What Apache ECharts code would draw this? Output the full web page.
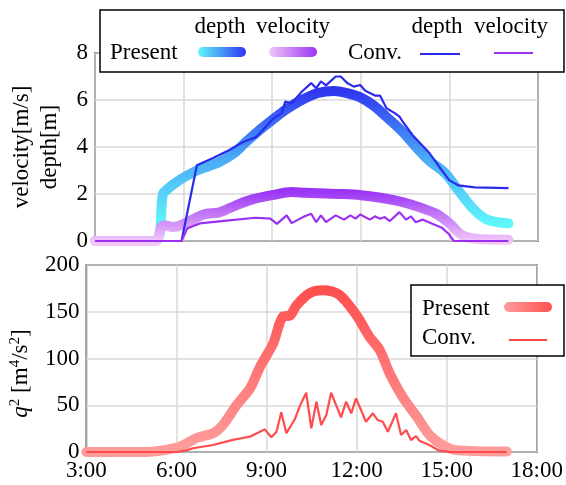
<!DOCTYPE html>
<html>
<head>
<meta charset="utf-8">
<script src="https://cdn.jsdelivr.net/npm/echarts@6/dist/echarts.min.js"></script>
<style>html,body{margin:0;padding:0;background:#fff;}#c{width:566px;height:485px;}</style>
</head>
<body>
<div id="c"></div>
<script>
// ---- data (time in decimal hours) ----
const xTicks = [3, 6, 9, 12, 15, 18];

const presDepthT = [3.0, 5.05, 5.3, 5.45, 5.7, 6.0, 6.45, 7.2, 7.7, 8.1, 8.55, 9.0, 9.45, 10.0, 10.55, 11.1, 11.5, 12.0, 12.45, 12.87, 13.43, 13.87, 14.3, 14.86, 15.3, 15.76, 16.2, 16.6, 17.0];
const presDepthV = [0, 0, 2.0, 2.2, 2.45, 2.7, 3.0, 3.35, 3.73, 4.2, 4.7, 5.15, 5.58, 6.0, 6.3, 6.38, 6.3, 6.1, 5.75, 5.28, 4.63, 4.0, 3.44, 2.88, 2.16, 1.43, 0.96, 0.8, 0.75];

const presVelT = [3.0, 5.05, 5.25, 5.4, 5.6, 5.8, 6.12, 6.68, 7.22, 7.78, 8.33, 9.0, 9.66, 10.1, 10.55, 11.3, 12.0, 12.77, 13.43, 14.0, 14.53, 15.0, 15.43, 15.87, 17.0];
const presVelV = [0, 0, 0.62, 0.66, 0.6, 0.62, 0.8, 1.13, 1.22, 1.52, 1.77, 1.95, 2.08, 2.05, 2.03, 2.0, 1.95, 1.82, 1.65, 1.43, 1.17, 0.75, 0.24, 0.1, 0.05];

const convDepthT = [3.0, 5.93, 6.45, 7.0, 7.55, 8.0, 8.45, 8.78, 9.05, 9.33, 9.44, 9.66, 10.0, 10.32, 10.49, 10.65, 10.82, 11.15, 11.32, 11.54, 11.76, 11.98, 12.15, 12.48, 12.65, 12.87, 13.15, 13.31, 13.42, 13.75, 14.33, 14.66, 15.0, 15.3, 15.86, 17.0];
const convDepthV = [0, 0, 3.22, 3.53, 3.87, 4.2, 4.42, 4.85, 5.22, 5.45, 5.93, 5.86, 6.35, 6.72, 6.5, 6.79, 6.62, 7.0, 7.0, 6.72, 6.57, 6.64, 6.39, 6.19, 6.19, 5.65, 5.44, 5.29, 5.08, 4.51, 3.73, 3.15, 2.58, 2.37, 2.28, 2.25];

const convVelT = [3.0, 5.93, 6.12, 6.55, 7.45, 8.44, 8.94, 9.16, 9.49, 9.66, 9.88, 10.1, 10.32, 10.49, 10.65, 10.82, 11.15, 11.43, 11.65, 11.82, 11.98, 12.31, 12.48, 12.65, 12.81, 12.98, 13.31, 13.53, 13.7, 13.86, 14.09, 14.42, 14.75, 14.97, 15.15, 17.0];
const convVelV = [0, 0, 0.53, 0.75, 0.87, 0.99, 0.95, 0.73, 1.09, 0.76, 0.91, 1.05, 1.16, 0.8, 1.09, 0.8, 1.09, 0.91, 1.09, 0.95, 1.13, 0.91, 1.05, 0.95, 1.02, 0.85, 1.23, 0.91, 1.05, 0.8, 0.91, 0.73, 0.56, 0.31, 0, 0];

const presQT = [3.0, 5.0, 5.6, 6.12, 6.68, 7.22, 7.55, 8.0, 8.45, 8.78, 9.22, 9.55, 9.78, 10.0, 10.44, 10.87, 11.43, 12.0, 12.43, 12.77, 13.1, 13.53, 14.0, 14.43, 14.86, 15.3, 17.0];
const presQV = [0, 0, 2, 5.7, 15, 20, 29, 50, 68, 91, 116, 145, 146, 157, 170, 173, 168, 146, 123, 109, 84, 59, 38, 18, 7.5, 2, 0.5];

const convQT = [3.0, 6.0, 6.3, 6.55, 7.22, 7.88, 8.2, 8.44, 8.78, 8.94, 9.16, 9.33, 9.49, 9.66, 9.94, 10.1, 10.32, 10.49, 10.66, 10.82, 10.99, 11.15, 11.48, 11.65, 11.82, 11.98, 12.31, 12.54, 12.7, 12.87, 13.04, 13.31, 13.48, 13.65, 13.81, 13.98, 14.09, 14.42, 14.76, 15.1, 17.0];
const convQV = [0, 0, 1.5, 4, 7.5, 13, 15, 16.4, 21.7, 24.2, 15.7, 21.7, 42.4, 20, 35, 48.5, 63.4, 25.3, 53.8, 28.9, 39.6, 63.4, 37.1, 53.8, 41.4, 57.4, 32.4, 41.4, 34.2, 32.4, 21.7, 41.4, 18.2, 23.5, 12.8, 17.1, 12.1, 7.5, 1.4, 0, 0];

const zip = (t, v) => t.map((x, i) => [x, v[i]]);

const FONT = 'Liberation Serif';
const FS = 23;
const FSTR = FS + 'px "Liberation Serif"';
const C = {
  cyan: '#5ff7fa', blue: '#3035f0',
  pink: '#f2c6f8', purple: '#9a35f5',
  lred: '#ff9d9d', red: '#ff5050',
  convBlue: '#2b2bee', convPurple: '#9b30f0', convRed: '#ff4b4b'
};
const G = echarts.graphic;

const chart = echarts.init(document.getElementById('c'), null, {renderer: 'canvas'});

const splitLine = {show: true, lineStyle: {color: '#d9d9d9', width: 1.5}};
const axisLabel = {color: '#000', fontFamily: FONT, fontSize: FS};

const option = {
  animation: false,
  backgroundColor: '#fff',
  grid: [
    {left: 86, right: 28, top: 53, height: 188, show: true, borderColor: '#000', borderWidth: 1.5, backgroundColor: 'transparent'},
    {left: 86, right: 28, top: 265, height: 187, show: true, borderColor: '#000', borderWidth: 1.5, backgroundColor: 'transparent'}
  ],
  xAxis: [
    {gridIndex: 0, type: 'value', min: 3, max: 18, interval: 3, axisLine: {show: false}, axisTick: {show: false}, axisLabel: {show: false}, splitLine},
    {gridIndex: 1, type: 'value', min: 3, max: 18, interval: 3, axisLine: {show: false}, axisTick: {show: false},
     axisLabel: Object.assign({}, axisLabel, {margin: 7, formatter: v => xTicks.includes(v) ? v + ':00' : ''}), splitLine}
  ],
  yAxis: [
    {gridIndex: 0, type: 'value', min: 0, max: 8, interval: 2, axisLine: {show: false}, axisTick: {show: false},
     axisLabel: Object.assign({}, axisLabel, {margin: 7}), splitLine,
     name: 'velocity[m/s]\ndepth[m]', nameLocation: 'middle', nameRotate: 90, nameGap: 31,
     nameTextStyle: {color: '#000', fontFamily: FONT, fontSize: FS, lineHeight: 28}},
    {gridIndex: 1, type: 'value', min: 0, max: 200, interval: 50, axisLine: {show: false}, axisTick: {show: false},
     axisLabel: Object.assign({}, axisLabel, {margin: 7}), splitLine,
     name: '{i|q}{s|2} [m{s|4}/s{s|2}]', nameLocation: 'middle', nameRotate: 90, nameGap: 51,
     nameTextStyle: {color: '#000', fontFamily: FONT, fontSize: FS, lineHeight: 26, padding: [0, 30, 0, 0],
       rich: {
         i: {fontFamily: FONT, fontSize: FS, fontStyle: 'italic', color: '#000', lineHeight: 26},
         s: {fontFamily: FONT, fontSize: 15, color: '#000', verticalAlign: 'top', lineHeight: 26}
       }}}
  ],
  visualMap: [
    {type: 'continuous', show: false, seriesIndex: 0, dimension: 1, min: 0.7, max: 6.4, inRange: {color: [C.cyan, '#4aa8f7', C.blue]}},
    {type: 'continuous', show: false, seriesIndex: 1, dimension: 1, min: 0.0, max: 2.1, inRange: {color: [C.pink, C.purple]}},
    {type: 'continuous', show: false, seriesIndex: 4, dimension: 1, min: 0, max: 172, inRange: {color: [C.lred, C.red]}}
  ],
  series: [
    {type: 'line', xAxisIndex: 0, yAxisIndex: 0, data: zip(presDepthT, presDepthV), showSymbol: false, smooth: 0.3,
     lineStyle: {width: 10, cap: 'round', join: 'round'}, z: 2},
    {type: 'line', xAxisIndex: 0, yAxisIndex: 0, data: zip(presVelT, presVelV), showSymbol: false, smooth: 0.3,
     lineStyle: {width: 10, cap: 'round', join: 'round'}, z: 3},
    {type: 'line', xAxisIndex: 0, yAxisIndex: 0, data: zip(convDepthT, convDepthV), showSymbol: false,
     lineStyle: {width: 2.2, color: C.convBlue}, itemStyle: {color: C.convBlue}, z: 4},
    {type: 'line', xAxisIndex: 0, yAxisIndex: 0, data: zip(convVelT, convVelV), showSymbol: false,
     lineStyle: {width: 2.2, color: C.convPurple}, itemStyle: {color: C.convPurple}, z: 5},
    {type: 'line', xAxisIndex: 1, yAxisIndex: 1, data: zip(presQT, presQV), showSymbol: false, smooth: 0.3,
     lineStyle: {width: 10, cap: 'round', join: 'round'}, z: 2},
    {type: 'line', xAxisIndex: 1, yAxisIndex: 1, data: zip(convQT, convQV), showSymbol: false,
     lineStyle: {width: 2.2, color: C.convRed}, itemStyle: {color: C.convRed}, z: 3}
  ],
  graphic: [
    // top legend
    {type: 'rect', z: 100, shape: {x: 100, y: 10, width: 464, height: 62}, style: {fill: '#fff', stroke: '#000', lineWidth: 1.5}},
    {type: 'text', z: 101, style: {x: 110, y: 53, text: 'Present', font: FSTR, fill: '#000', textAlign: 'left', textVerticalAlign: 'middle'}},
    {type: 'text', z: 101, style: {x: 220, y: 27, text: 'depth', font: FSTR, fill: '#000', textAlign: 'center', textVerticalAlign: 'middle'}},
    {type: 'text', z: 101, style: {x: 293, y: 27, text: 'velocity', font: FSTR, fill: '#000', textAlign: 'center', textVerticalAlign: 'middle'}},
    {type: 'rect', z: 101, shape: {x: 198, y: 47, width: 48, height: 10, r: 5},
     style: {fill: new G.LinearGradient(0, 0, 1, 0, [{offset: 0, color: C.cyan}, {offset: 1, color: C.blue}])}},
    {type: 'rect', z: 101, shape: {x: 269, y: 47, width: 48, height: 10, r: 5},
     style: {fill: new G.LinearGradient(0, 0, 1, 0, [{offset: 0, color: C.pink}, {offset: 1, color: C.purple}])}},
    {type: 'text', z: 101, style: {x: 348, y: 53, text: 'Conv.', font: FSTR, fill: '#000', textAlign: 'left', textVerticalAlign: 'middle'}},
    {type: 'text', z: 101, style: {x: 437, y: 27, text: 'depth', font: FSTR, fill: '#000', textAlign: 'center', textVerticalAlign: 'middle'}},
    {type: 'text', z: 101, style: {x: 511, y: 27, text: 'velocity', font: FSTR, fill: '#000', textAlign: 'center', textVerticalAlign: 'middle'}},
    {type: 'line', z: 101, shape: {x1: 420, y1: 54, x2: 460, y2: 54}, style: {stroke: C.convBlue, lineWidth: 2.2}},
    {type: 'line', z: 101, shape: {x1: 494, y1: 53, x2: 533, y2: 53}, style: {stroke: C.convPurple, lineWidth: 2.2}},
    // bottom legend
    {type: 'rect', z: 100, shape: {x: 411, y: 285, width: 153, height: 71}, style: {fill: '#fff', stroke: '#000', lineWidth: 1.5}},
    {type: 'text', z: 101, style: {x: 422, y: 309, text: 'Present', font: FSTR, fill: '#000', textAlign: 'left', textVerticalAlign: 'middle'}},
    {type: 'text', z: 101, style: {x: 422, y: 338, text: 'Conv.', font: FSTR, fill: '#000', textAlign: 'left', textVerticalAlign: 'middle'}},
    {type: 'rect', z: 101, shape: {x: 504, y: 302, width: 48, height: 10, r: 5},
     style: {fill: new G.LinearGradient(0, 0, 1, 0, [{offset: 0, color: C.lred}, {offset: 1, color: C.red}])}},
    {type: 'line', z: 101, shape: {x1: 509, y1: 340, x2: 547, y2: 340}, style: {stroke: C.convRed, lineWidth: 2.2}}
  ]
};
chart.setOption(option);
</script>
</body>
</html>
